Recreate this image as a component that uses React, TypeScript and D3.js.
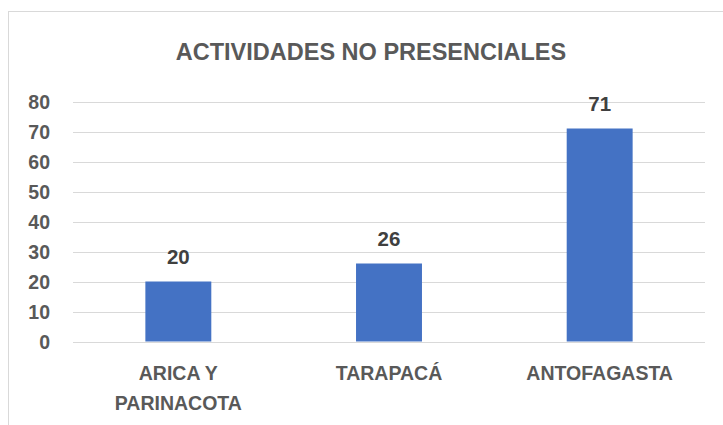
import React from "react";
import * as d3 from "d3";

const categories: string[][] = [["ARICA Y", "PARINACOTA"], ["TARAPACÁ"], ["ANTOFAGASTA"]];
const categoryKeys = ["ARICA Y PARINACOTA", "TARAPACÁ", "ANTOFAGASTA"];
const values = [20, 26, 71];
const yTicks = [0, 10, 20, 30, 40, 50, 60, 70, 80];
const title = "ACTIVIDADES NO PRESENCIALES";

const W = 723;
const H = 425;
const FONT = "'Liberation Sans', Arial, sans-serif";

export default function App() {
  const x = d3
    .scaleBand<string>()
    .domain(categoryKeys)
    .range([73, 705])
    .paddingInner(0.687)
    .paddingOuter(0.687 / 2);
  const y = d3.scaleLinear().domain([0, 80]).range([341.5, 101.5]);

  return (
    <svg
      width={W}
      height={H}
      style={{ position: "absolute", left: 0, top: 0, background: "#fff" }}
      fontFamily={FONT}
    >
      <rect x={0} y={0} width={W} height={H} fill="#fff" />
      <rect x={8.5} y={11.5} width={W + 20} height={H + 20} fill="none" stroke="#d9d9d9" strokeWidth={1} />
      <text x={371} y={60} textAnchor="middle" fontSize={23.5} fontWeight="bold" fill="#595959">
        {title}
      </text>
      {yTicks.map((t) => (
        <g key={t}>
          <line x1={73} x2={705} y1={Math.round(y(t)) + 0.5} y2={Math.round(y(t)) + 0.5} stroke="#d9d9d9" strokeWidth={1} />
          <text x={50} y={y(t)} dy="0.36em" textAnchor="end" fontSize={19.5} fontWeight="bold" fill="#595959">
            {t}
          </text>
        </g>
      ))}
      {categoryKeys.map((c, i) => {
        const bx = x(c) as number;
        const bw = x.bandwidth();
        const cx = bx + bw / 2;
        return (
          <g key={c}>
            <rect x={bx} y={y(values[i])} width={bw} height={y(0) - y(values[i])} fill="#4472C4" />
            <text x={cx} y={y(values[i]) - 18} textAnchor="middle" fontSize={20.5} fontWeight="bold" fill="#404040">
              {values[i]}
            </text>
            {categories[i].map((line, j) => (
              <text key={j} x={cx} y={380 + j * 30} textAnchor="middle" fontSize={19.5} fontWeight="bold" fill="#595959">
                {line}
              </text>
            ))}
          </g>
        );
      })}
    </svg>
  );
}
